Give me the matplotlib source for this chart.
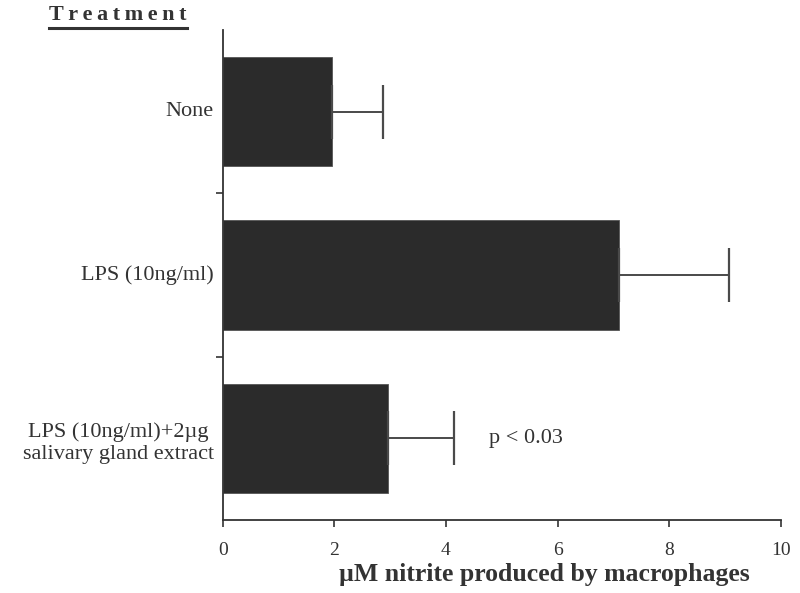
import matplotlib.pyplot as plt
from matplotlib.lines import Line2D

# data
treatments = ["None", "LPS (10ng/ml)", "LPS (10ng/ml)+2\u00b5g\nsalivary gland extract"]
nitrite = [1.96, 7.10, 2.97]
nitrite_err = [0.92, 1.98, 1.17]
xticks = [0, 2, 4, 6, 8, 10]

plt.rcParams['font.family'] = ['Liberation Serif', 'DejaVu Serif']
text_col = '#333333'
bar_col = '#2b2b2b'

fig = plt.figure(figsize=(8, 5.93), dpi=100)
ax = fig.add_axes([0.2784, 0.1231, 0.6975, 0.8263])

ypos = list(range(len(treatments)))
ax.barh(ypos, nitrite, height=0.67, color=bar_col, edgecolor='#555555', linewidth=0.6)
ax.errorbar(nitrite, ypos, xerr=[[0] * len(nitrite), nitrite_err], fmt='none',
            ecolor='#4a4a4a', elinewidth=1.4, capsize=19.5, capthick=1.6)

ax.set_xlim(0, 10)
ax.set_ylim(2.5, -0.5)
ax.set_xticks(xticks)
ax.set_xticklabels([str(t) for t in xticks], fontsize=14, color=text_col)
ax.set_yticks([0.5, 1.5])
ax.set_yticklabels([])
ax.tick_params(axis='x', direction='out', length=5, width=1.2, color='#333333', pad=11)
ax.tick_params(axis='y', direction='out', length=5, width=1.2, color='#333333')

for i, lab in enumerate(treatments):
    dy = 0.03 if '\n' in lab else 0
    ax.text(-0.16, i + dy, lab, ha='right', va='center', multialignment='center',
            fontsize=16, color=text_col, linespacing=1.2)

for s in ['top', 'right']:
    ax.spines[s].set_visible(False)
for s in ['left', 'bottom']:
    ax.spines[s].set_linewidth(1.3)
    ax.spines[s].set_color('#333333')

ax.text(0.576, -0.112, '\u00b5M nitrite produced by macrophages', transform=ax.transAxes,
        ha='center', va='center', fontsize=18.5, fontweight='bold', color=text_col)

ax.text(4.77, 2, 'p < 0.03', ha='left', va='center', fontsize=16, color=text_col)

# underlined, letter-spaced header
fig.text(0.0615, 0.974, '\u2009'.join('Treatment'), fontsize=16, fontweight='bold',
         color=text_col, ha='left', va='center')
fig.add_artist(Line2D([0.061, 0.234], [0.953, 0.953], color=text_col, linewidth=2.2))

fig.savefig('out.png', dpi=100)
